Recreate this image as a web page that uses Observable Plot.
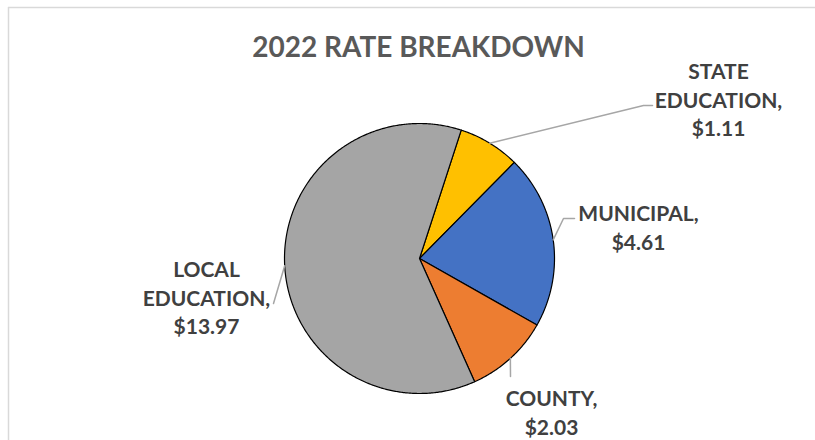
<!DOCTYPE html>
<html>
<head>
<meta charset="utf-8">
<script src="https://cdn.jsdelivr.net/npm/d3@7"></script>
<script src="https://cdn.jsdelivr.net/npm/@observablehq/plot@0.6"></script>
<style>
  html, body { margin: 0; padding: 0; background: #ffffff; }
  #chart svg { display: block; }
</style>
</head>
<body>
<div id="chart"></div>
<script>
// ---- data ----
const categories = ["STATE EDUCATION", "MUNICIPAL", "COUNTY", "LOCAL EDUCATION"];
const rates = [1.11, 4.61, 2.03, 13.97];          // values shown in the labels
const sliceShare = [7.4, 20.8, 10.1, 61.7];       // share of the pie as drawn (percent)
const sliceColors = ["#FFC000", "#4472C4", "#ED7D31", "#A5A5A5"];
const title = "2022 RATE BREAKDOWN";

// ---- layout ----
const W = 815, H = 440;
const cx = 419, cy = 258, R = 135;
const startDeg = 18;
const FONT = "Lato, 'Open Sans', sans-serif";
const labelLayout = {
  "STATE EDUCATION": {lx: 718, ly: 98, path: [[643, 105], [652, 105]]},
  "MUNICIPAL":       {lx: 638, ly: 226, path: [[563, 218], [574, 218]]},
  "COUNTY":          {lx: 551, ly: 411, path: [[510, 376]]},
  "LOCAL EDUCATION": {lx: 206, ly: 296, path: [[273, 303]]}
};

const rows = categories.map((c, i) => ({key: c, share: sliceShare[i], rate: rates[i]}));
const pie = d3.pie().sort(null).value(d => d.share)
  .startAngle(startDeg * Math.PI / 180)
  .endAngle(startDeg * Math.PI / 180 + 2 * Math.PI);
const arcs = pie(rows);

const px = a => cx + R * Math.sin(a);
const py = a => cy - R * Math.cos(a);

// slice outlines (center + arc)
const slicePts = [];
arcs.forEach(a => {
  slicePts.push({key: a.data.key, x: cx, y: cy});
  const n = Math.max(2, Math.ceil((a.endAngle - a.startAngle) / (Math.PI / 360)));
  for (let k = 0; k <= n; k++) {
    const t = a.startAngle + (a.endAngle - a.startAngle) * k / n;
    slicePts.push({key: a.data.key, x: px(t), y: py(t)});
  }
});

// leader lines from mid-angle of each slice
const leaderPts = [];
arcs.forEach(a => {
  const m = (a.startAngle + a.endAngle) / 2;
  const L = labelLayout[a.data.key];
  leaderPts.push({key: a.data.key, x: px(m), y: py(m)});
  L.path.forEach(([x, y]) => leaderPts.push({key: a.data.key, x, y}));
});

const labels = rows.map(r => ({
  text: r.key.replace(" ", "\n") + ",\n$" + r.rate.toFixed(2),
  x: labelLayout[r.key].lx,
  y: labelLayout[r.key].ly
}));

const chart = Plot.plot({
  width: W,
  height: H,
  margin: 0,
  style: {background: "#ffffff", fontFamily: FONT},
  x: {domain: [0, W], range: [0, W], axis: null},
  y: {domain: [0, H], range: [0, H], axis: null},
  color: {domain: categories, range: sliceColors},
  marks: [
    // chart-area border
    Plot.ruleY([7], {x1: 8, x2: W, stroke: "#d9d9d9", strokeWidth: 1.5}),
    Plot.ruleX([8], {y1: 7, y2: H, stroke: "#d9d9d9", strokeWidth: 1.5}),
    // slices
    Plot.line(slicePts, {x: "x", y: "y", z: "key", fill: "key", stroke: "#000000",
      strokeWidth: 1.2, curve: "linear-closed", strokeLinejoin: "round"}),
    // leader lines
    Plot.line(leaderPts, {x: "x", y: "y", z: "key", stroke: "#a6a6a6", strokeWidth: 1.5}),
    // labels
    Plot.text(labels, {x: "x", y: "y", text: "text", fontSize: 21, fontWeight: "bold",
      fill: "#404040", lineHeight: 1.36, textAnchor: "middle", lineAnchor: "middle",
      fontFamily: FONT}),
    // title
    Plot.text([title], {x: () => 418, y: () => 48, text: d => d, fontSize: 28,
      fontWeight: "bold", fill: "#595959", textAnchor: "middle", lineAnchor: "middle",
      fontFamily: FONT})
  ]
});
document.getElementById("chart").appendChild(chart);
</script>
</body>
</html>
